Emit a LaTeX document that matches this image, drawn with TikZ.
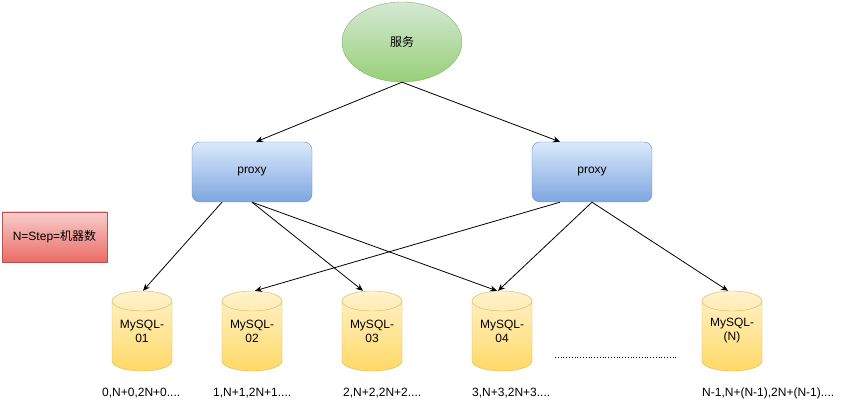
\documentclass[tikz,border=0pt]{standalone}
\usepackage{fontspec}
\setmainfont{Liberation Sans}
\newfontfamily\cjk{Noto Sans CJK SC}
\usetikzlibrary{shapes.geometric,arrows.meta}
\definecolor{gA}{HTML}{D5E8D4}\definecolor{gB}{HTML}{97D077}\definecolor{gL}{HTML}{82B366}
\definecolor{bA}{HTML}{DAE8FC}\definecolor{bB}{HTML}{7EA6E0}\definecolor{bL}{HTML}{6C8EBF}
\definecolor{rA}{HTML}{F8CECC}\definecolor{rB}{HTML}{EA6B66}\definecolor{rL}{HTML}{B85450}
\definecolor{yA}{HTML}{FFF2CC}\definecolor{yB}{HTML}{FFD966}\definecolor{yL}{HTML}{D6B656}
\tikzset{
  base/.style={font=\fontsize{12}{14}\selectfont, inner sep=0pt, align=center},
  svc/.style={base, ellipse, draw=gL, top color=gA, bottom color=gB, minimum width=120pt, minimum height=80pt},
  proxybox/.style={base, rounded corners=8pt, draw=bL, top color=bA, bottom color=bB, minimum width=120pt, minimum height=60pt},
  notebox/.style={base, draw=rL, top color=rA, bottom color=rB, minimum width=105pt, minimum height=50pt},
  dbfill/.style={draw=yL, top color=yA, bottom color=yB},
  dbline/.style={draw=yL},
  dbnode/.style={base, minimum width=60pt, minimum height=80pt},
  lbl/.style={base, anchor=west},
  conn/.style={-{Stealth[length=7pt,width=6pt]}, line width=0.8pt},
}
\newcommand\dbcyl[3]{%
  \path[dbfill] (#2-30,301) -- (#2-30,361) arc[start angle=180,end angle=360,x radius=30pt,y radius=10pt] -- (#2+30,301) arc[start angle=0,end angle=180,x radius=30pt,y radius=10pt] -- cycle;
  \draw[dbline] (#2-30,301) arc[start angle=180,end angle=360,x radius=30pt,y radius=10pt];
  \node[dbnode] (#1) at (#2,331) {#3};
}
\begin{document}
\begin{tikzpicture}[x=1pt,y=-1pt]
\useasboundingbox[fill=white] (0,0) rectangle (843,403);
\node[svc] (s) at (402,42) {\cjk 服务};
\node[proxybox] (pl) at (252,172) {proxy};
\node[proxybox] (pr) at (592,172) {proxy};
\node[notebox] (n) at (54.5,237) {N=Step=\cjk 机器数};
\dbcyl{d1}{142}{MySQL-\\01}
\dbcyl{d2}{252}{MySQL-\\02}
\dbcyl{d3}{372}{MySQL-\\03}
\dbcyl{d4}{502}{MySQL-\\04}
\dbcyl{dn}{732}{MySQL-\\(N)}
\node[lbl] (l1) at (102,393) {0,N+0,2N+0....};
\node[lbl] (l2) at (213,393) {1,N+1,2N+1....};
\node[lbl] (l3) at (343,393) {2,N+2,2N+2....};
\node[lbl] (l4) at (472,393) {3,N+3,2N+3....};
\node[lbl] (ln) at (702,393) {N-1,N+(N-1),2N+(N-1)....};
\coordinate (dA) at (555,357);
\coordinate (dB) at (677,357);
\draw[dotted, line width=0.8pt] (dA) -- (dB);
\draw[conn] (s.south) -- ([xshift=4pt]pl.north);
\draw[conn] (s.south) -- ([xshift=-32pt]pr.north);
\draw[conn] ([xshift=-30pt]pl.south) -- ([xshift=1pt]d1.north);
\draw[conn] (pl.south) -- ([xshift=-9pt]d3.north);
\draw[conn] (pl.south) -- ([xshift=-5pt]d4.north);
\draw[conn] ([xshift=-32pt]pr.south) -- ([xshift=3pt]d2.north);
\draw[conn] (pr.south) -- ([xshift=-4pt]d4.north);
\draw[conn] (pr.south) -- ([xshift=-4pt]dn.north);
\end{tikzpicture}
\end{document}
